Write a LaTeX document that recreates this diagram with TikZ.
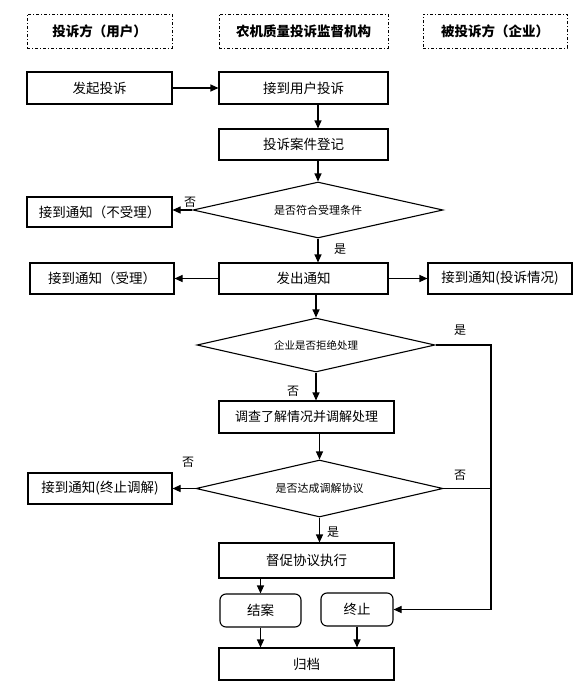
\documentclass[tikz,border=0pt]{standalone}
\usepackage{fontspec}
\setmainfont{Noto Sans CJK SC}
\usetikzlibrary{arrows.meta,shapes.geometric}
\begin{document}
\begin{tikzpicture}[x=1pt,y=-1pt,
  box/.style={draw,line width=1.1pt,rectangle,inner sep=0pt,font=\fontsize{13.5}{15}\selectfont},
  rbox/.style={box,rounded corners=6pt},
  head/.style={draw,line width=0.8pt,dash pattern=on 3pt off 2pt on 1pt off 2pt,inner sep=0pt,minimum width=145pt,minimum height=34pt,font=\fontsize{13.5}{15}\selectfont\bfseries},
  dia/.style={draw,line width=1.1pt,diamond,inner sep=0pt,font=\fontsize{11}{13}\selectfont},
  arr/.style={line width=1.1pt,-{Triangle[length=8pt,width=7pt]}},
  ln/.style={line width=1.1pt},
  lab/.style={font=\fontsize{12}{14}\selectfont,inner sep=0pt}]
\fill[white] (0,0) rectangle (586,696);
\useasboundingbox (0,0) rectangle (586,696);
% headers
\node[head] (h1) at (99.5,31) {投诉方（用户）};
\node[head,minimum width=169pt] (h2) at (303.5,31) {农机质量投诉监督机构};
\node[head,minimum width=144pt] (h3) at (495,31) {被投诉方（企业）};
% boxes
\node[box,minimum width=145pt,minimum height=32pt] (n1) at (99.5,88) {发起投诉};
\node[box,minimum width=169pt,minimum height=32pt] (n2) at (303.5,88) {接到用户投诉};
\node[box,minimum width=169pt,minimum height=31pt] (n3) at (303.5,144.5) {投诉案件登记};
\node[dia,minimum width=250pt,minimum height=56pt,shape aspect=4.46] (d1) at (318,210) {是否符合受理条件};
\node[box,minimum width=145pt,minimum height=30pt] (no1) at (99.5,212) {接到通知（不受理）};
\node[box,minimum width=169pt,minimum height=31pt] (n4) at (303.5,278.5) {发出通知};
\node[box,minimum width=144pt,minimum height=31pt] (n5) at (102,278.5) {接到通知（受理）};
\node[box,minimum width=144pt,minimum height=31pt] (n6) at (500,278.5) {接到通知(投诉情况)};
\node[dia,minimum width=238pt,minimum height=54pt,shape aspect=4.4,font=\fontsize{10.5}{12}\selectfont] (d2) at (316,345) {企业是否拒绝处理};
\node[box,minimum width=175pt,minimum height=32pt,font=\fontsize{13}{15}\selectfont] (n7) at (306.5,417) {调查了解情况并调解处理};
\node[dia,minimum width=247pt,minimum height=57pt,shape aspect=4.33] (d3) at (319.5,488.5) {是否达成调解协议};
\node[box,minimum width=144pt,minimum height=31pt] (n8) at (100,488.5) {接到通知(终止调解)};
\node[box,minimum width=175pt,minimum height=35pt] (n9) at (306.5,560.5) {督促协议执行};
\node[rbox,minimum width=81pt,minimum height=33pt] (n10) at (260.5,610.5) {结案};
\node[rbox,minimum width=72pt,minimum height=33pt] (n11) at (357,609.5) {终止};
\node[box,minimum width=175pt,minimum height=32pt] (n12) at (306.5,664) {归档};
\coordinate (rt) at (491,346);
% labels
\node[lab] (l1) at (190,202) {否};
\node[lab] (l2) at (340,249) {是};
\node[lab] (l3) at (460,330) {是};
\node[lab] (l4) at (293,391) {否};
\node[lab] (l5) at (188,462) {否};
\node[lab] (l6) at (460,475) {否};
\node[lab] (l7) at (333,532) {是};
% connectors
\draw[arr] (n1.east) -- (n2.west);
\draw[arr] (n2.south -| d1.south) -- (n3.north -| d1.south);
\draw[arr] (n3.south -| d1.north) -- (d1.north);
\draw[arr] (d1.west) -- (no1.east |- d1.west);
\draw[arr] (d1.south) -- (n4.north -| d1.south);
\draw[arr] (n4.west) -- (n5.east);
\draw[arr] (n4.east) -- (n6.west);
\draw[arr] (n4.south -| d2.north) -- (d2.north);
\draw[arr] (d2.south) -- (n7.north -| d2.south);
\draw[arr] (n7.south -| d3.north) -- (d3.north);
\draw[arr] (d3.west) -- (n8.east |- d3.west);
\draw[arr] (d3.south) -- (n9.north -| d3.south);
\draw[arr] (d2.east) -| (rt |- n11.east) -- (n11.east);
\draw[ln] (d3.east) -- (d3.east -| rt);
\draw[arr] (n9.south -| n10.north) -- (n10.north);
\draw[arr] (n10.south) -- (n10.south |- n12.north);
\draw[arr] (n11.south) -- (n11.south |- n12.north);
\end{tikzpicture}
\end{document}
